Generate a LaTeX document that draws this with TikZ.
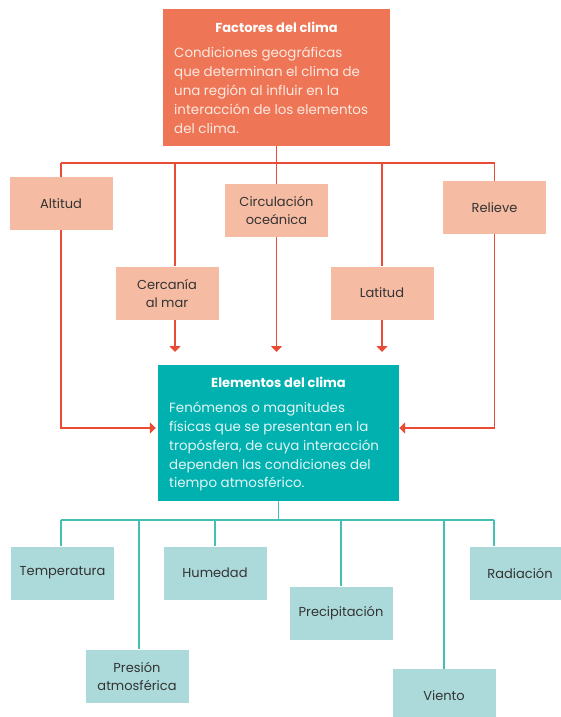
\documentclass[tikz,border=0pt]{standalone}
\usepackage{fontspec}
\setmainfont{Poppins}
\usetikzlibrary{arrows.meta}
\definecolor{topfill}{HTML}{EE7656}
\definecolor{redline}{HTML}{E94B35}
\definecolor{salmon}{HTML}{F6BBA3}
\definecolor{tealfill}{HTML}{00B1B0}
\definecolor{tealline}{HTML}{45BFB3}
\definecolor{lteal}{HTML}{ACDADA}
\definecolor{txt}{HTML}{333333}
\definecolor{toptxt}{HTML}{FCE9E1}
\definecolor{tealtxt}{HTML}{E3F6F5}
\begin{document}
\begin{tikzpicture}[x=1pt,y=-1pt,
  box/.style={minimum width=103pt,minimum height=53pt,inner sep=0pt,align=center,
    text=txt,font=\fontsize{13}{18}\selectfont},
  fbox/.style={box,fill=salmon},
  ebox/.style={box,fill=lteal},
  rline/.style={draw=redline,line width=1.8pt},
  tline/.style={draw=tealline,line width=1.8pt},
  tip/.style={-{Triangle[width=11pt,length=6pt]}},
  ttl/.style={font=\fontsize{13}{16}\bfseries\selectfont,text=white,inner sep=0pt},
  para/.style={align=left,inner sep=0pt,anchor=north west}
]
\useasboundingbox (0,0) rectangle (561,717);
% top box
\node[fill=topfill,minimum width=227pt,minimum height=137pt,inner sep=0pt] (top) at (276.5,77.5) {};
\node[ttl] (toptitle) at (276.5,27) {Factores del clima};
\node[para,text=toptxt,font=\fontsize{13.4}{19}\selectfont] (topbody) at (174,46.5)
  {Condiciones geográficas\\que determinan el clima de\\una región al influir en la\\interacción de los elementos\\del clima.};
% factor boxes
\node[fbox] (alt) at (61,203.5) {Altitud};
\node[fbox] (cer) at (167,293) {Cercanía\\al mar};
\node[fbox] (cir) at (276.5,210.5) {Circulación\\oceánica};
\node[fbox] (lat) at (382,293) {Latitud};
\node[fbox] (rel) at (494.5,207.5) {Relieve};
% teal box
\node[fill=tealfill,minimum width=241pt,minimum height=136pt,inner sep=0pt] (ele) at (278.5,433) {};
\node[ttl] (eletitle) at (278.5,382) {Elementos del clima};
\node[para,text=tealtxt,font=\fontsize{13.4}{18.8}\selectfont] (elebody) at (169,402)
  {Fenómenos o magnitudes\\físicas que se presentan en la\\tropósfera, de cuya interacción\\dependen las condiciones del\\tiempo atmosférico.};
% element boxes
\node[ebox] (tem) at (62.5,573) {Temperatura};
\node[ebox] (pre) at (137,676) {Presión\\atmosférica};
\node[ebox] (hum) at (215,573) {Humedad};
\node[ebox] (pcp) at (341,613) {Precipitación};
\node[ebox] (vie) at (444,695.5) {Viento};
\node[ebox,minimum width=100pt] (rad) at (520,573) {Radiación};
% red connectors
\coordinate (rbus) at (0,163);
\coordinate (aend) at (0,352);
\coordinate (side) at (0,428);
\coordinate (rC) at (175,163);
\draw[rline] (top.south) -- (top.south |- rbus);
\draw[rline] (alt.north |- rbus) -- (rel.north |- rbus);
\draw[rline] (alt.north |- rbus) -- (alt.north);
\draw[rline] (rC) -- (rC |- cer.north);
\draw[rline] (cir.north |- rbus) -- (cir.north);
\draw[rline] (lat.north |- rbus) -- (lat.north);
\draw[rline] (rel.north |- rbus) -- (rel.north);
\draw[rline,tip] (rC |- cer.south) -- (rC |- aend);
\draw[rline,tip] (cir.south) -- (cir.south |- aend);
\draw[rline,tip] (lat.south) -- (lat.south |- aend);
\draw[rline,tip,shorten >=2pt] (alt.south) |- (ele.west |- side);
\draw[rline,tip] (rel.south) |- (ele.east |- side);
% teal connectors
\coordinate (tbus) at (0,520);
\coordinate (tP) at (139,520);
\coordinate (tR) at (494,520);
\draw[tline] (ele.south) -- (ele.south |- tbus);
\draw[tline] (61,520) -- (tR);
\draw[tline] (tem.north -| 61,0) -- (61,520);
\draw[tline] (tP) -- (tP |- pre.north);
\draw[tline] (hum.north |- tbus) -- (hum.north);
\draw[tline] (pcp.north |- tbus) -- (pcp.north);
\draw[tline] (vie.north |- tbus) -- (vie.north);
\draw[tline] (tR) -- (tR |- rad.north);
\end{tikzpicture}
\end{document}
